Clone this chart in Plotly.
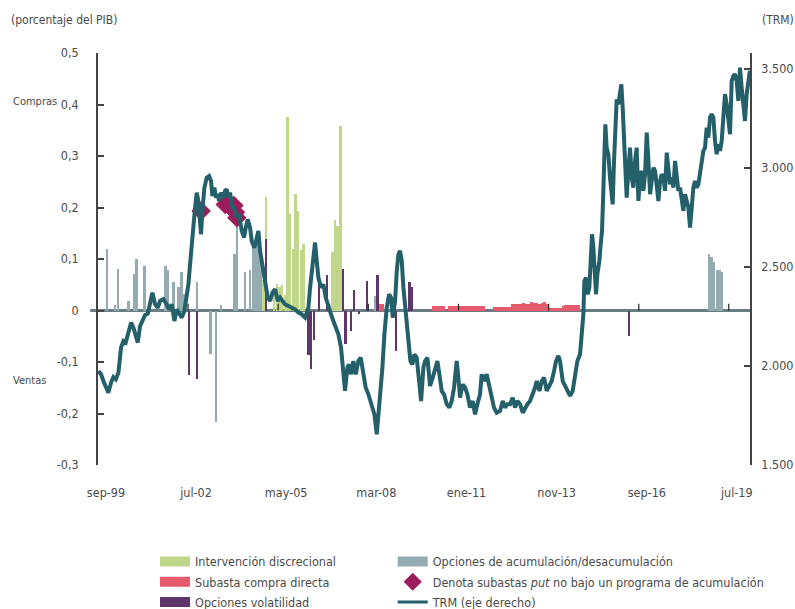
import datetime as dt
import plotly.graph_objects as go

# ---------------- data ----------------
# TRM (pesos por dólar); time as decimal years
trm_years = [
    1999.678, 1999.762, 1999.835, 1999.908, 1999.992, 2000.076, 2000.149, 2000.223, 2000.307,
    2000.390, 2000.464, 2000.537, 2000.621, 2000.705, 2000.778, 2000.851, 2000.914, 2000.988,
    2001.061, 2001.145, 2001.229, 2001.302, 2001.375, 2001.459, 2001.543, 2001.616, 2001.721,
    2001.826, 2001.899, 2001.983, 2002.067, 2002.140, 2002.214, 2002.297, 2002.381, 2002.455,
    2002.507, 2002.560, 2002.612, 2002.664, 2002.717, 2002.769, 2002.821, 2002.874, 2002.905,
    2002.947, 2003.010, 2003.084, 2003.157, 2003.220, 2003.262, 2003.325, 2003.377, 2003.429,
    2003.471, 2003.534, 2003.607, 2003.660, 2003.712, 2003.765, 2003.817, 2003.890, 2003.953,
    2004.027, 2004.100, 2004.184, 2004.257, 2004.310, 2004.372, 2004.446, 2004.498, 2004.582,
    2004.655, 2004.708, 2004.760, 2004.813, 2004.875, 2004.938, 2005.001, 2005.074, 2005.148,
    2005.232, 2005.315, 2005.389, 2005.462, 2005.546, 2005.651, 2005.756, 2005.860, 2005.965,
    2006.070, 2006.175, 2006.280, 2006.332, 2006.384, 2006.437, 2006.489, 2006.542, 2006.594,
    2006.678, 2006.751, 2006.825, 2006.908, 2006.992, 2007.065, 2007.139, 2007.223, 2007.306,
    2007.380, 2007.432, 2007.506, 2007.558, 2007.621, 2007.694, 2007.768, 2007.851, 2007.925,
    2008.009, 2008.082, 2008.166, 2008.271, 2008.355, 2008.428, 2008.501, 2008.564, 2008.606,
    2008.669, 2008.742, 2008.815, 2008.878, 2008.931, 2009.004, 2009.057, 2009.109, 2009.161,
    2009.214, 2009.266, 2009.340, 2009.424, 2009.486, 2009.549, 2009.612, 2009.685, 2009.759,
    2009.822, 2009.895, 2009.947,
    2010.021, 2010.104, 2010.188, 2010.262, 2010.335, 2010.398, 2010.471, 2010.544, 2010.628,
    2010.712, 2010.786, 2010.859, 2010.943, 2010.995, 2011.047, 2011.131, 2011.205, 2011.278,
    2011.362, 2011.446, 2011.519, 2011.592, 2011.676, 2011.729, 2011.802, 2011.886, 2011.970,
    2012.043, 2012.116, 2012.200, 2012.305, 2012.389, 2012.462, 2012.535, 2012.619, 2012.703,
    2012.777, 2012.850, 2012.934, 2013.018, 2013.091, 2013.164, 2013.248, 2013.332, 2013.405,
    2013.458, 2013.542, 2013.615, 2013.688, 2013.772, 2013.856, 2013.929, 2014.003, 2014.065,
    2014.139, 2014.191, 2014.275, 2014.348, 2014.422, 2014.506, 2014.589, 2014.663, 2014.736,
    2014.820, 2014.872, 2014.925, 2014.956, 2015.009, 2015.061, 2015.113, 2015.155, 2015.197,
    2015.239, 2015.281, 2015.323, 2015.365, 2015.428, 2015.470, 2015.512, 2015.553, 2015.585,
    2015.616, 2015.658, 2015.711, 2015.763, 2015.816, 2015.847, 2015.889, 2015.931, 2015.973,
    2016.025, 2016.077, 2016.119, 2016.161, 2016.203, 2016.245, 2016.287, 2016.339, 2016.392,
    2016.444, 2016.497, 2016.549, 2016.601, 2016.654, 2016.706, 2016.759, 2016.811, 2016.863,
    2016.916, 2016.968, 2017.021, 2017.073, 2017.125, 2017.178, 2017.230, 2017.283, 2017.335,
    2017.387, 2017.440, 2017.492, 2017.545, 2017.597, 2017.649, 2017.702, 2017.754, 2017.807,
    2017.859, 2017.911, 2017.964, 2018.016, 2018.068, 2018.121, 2018.173, 2018.226, 2018.278,
    2018.330, 2018.383, 2018.435, 2018.488, 2018.540, 2018.592, 2018.645, 2018.697, 2018.750,
    2018.802, 2018.854, 2018.907, 2018.959, 2019.012, 2019.064, 2019.116, 2019.169, 2019.221,
    2019.274, 2019.326, 2019.378, 2019.431, 2019.483, 2019.536, 2019.588, 2019.640, 2019.693,
    2019.745, 2019.798, 2019.850, 2019.902, 2019.955, 2020.007, 2020.059, 2020.112, 2020.160,
]
trm_values = [
    1975, 1958, 1924, 1891, 1865, 1916, 1944, 1933, 1966,
    2093, 2126, 2118, 2177, 2219, 2193, 2160, 2118, 2202,
    2231, 2257, 2264, 2328, 2370, 2311, 2294, 2328, 2337,
    2311, 2286, 2311, 2227, 2286, 2269, 2244, 2278, 2345,
    2412, 2513, 2631, 2698, 2799, 2875, 2833, 2724, 2665,
    2783, 2900, 2951, 2959, 2934, 2858, 2900, 2850, 2867,
    2833, 2875, 2850, 2884, 2892, 2850, 2875, 2799, 2799,
    2749, 2766, 2682, 2648, 2698, 2740, 2698, 2631, 2597,
    2648, 2682, 2581, 2530, 2480, 2412, 2345, 2328, 2370,
    2387, 2328, 2345, 2328, 2311, 2303, 2294, 2286, 2269,
    2261, 2244, 2294, 2395, 2463, 2564, 2623, 2530, 2446,
    2395, 2412, 2345, 2294, 2261, 2227, 2194, 2160, 2093,
    1958, 1874, 1992, 2008, 1958, 2025, 1958, 2025, 2042,
    1958, 1891, 1857, 1806, 1756, 1655, 1790, 1891, 1992,
    2160, 2294, 2362, 2345, 2244, 2328, 2480, 2564, 2581,
    2530, 2395, 2261, 2143, 2025, 2008, 2059, 2042, 1891,
    1823, 1992, 2025,
    2042, 1899, 1941, 1992, 2025, 1958, 1874, 1857, 1807,
    1790, 1823, 1891, 2025, 1941, 1840, 1907, 1891, 1857,
    1790, 1823, 1756, 1807, 1857, 1958, 1924, 1958, 1891,
    1857, 1790, 1764, 1773, 1823, 1790, 1807, 1807, 1840,
    1790, 1823, 1807, 1764, 1790, 1807, 1823, 1857, 1891,
    1924, 1874, 1924, 1941, 1874, 1907, 1924, 1975, 2025,
    2051, 2025, 1924, 1899, 1874, 1849, 1874, 1941, 2025,
    2059, 2160, 2261, 2429, 2446, 2362, 2396, 2530, 2665,
    2598, 2497, 2362, 2463, 2530, 2614, 2682, 2884, 3035,
    3220, 3102, 3069, 2951, 2884, 2816, 3035, 3203, 3346,
    3321, 3380, 3422, 3304, 3153, 2985, 2850, 2985, 3102,
    2951, 2900, 3035, 3102, 2833, 2951, 2985, 2884, 2968,
    3178, 3035, 2867, 2934, 3001, 2985, 2900, 2833, 2934,
    2968, 2951, 2884, 3077, 3001, 2917, 2951, 2900, 3035,
    2968, 2884, 2900, 2833, 2783, 2867, 2833, 2800, 2699,
    2800, 2900, 2934, 2900, 2917, 2968, 3018, 3086, 3102,
    3203, 3153, 3254, 3271, 3254, 3136, 3069, 3119, 3086,
    3136, 3254, 3372, 3321, 3237, 3170, 3439, 3464, 3473,
    3439, 3338, 3506, 3405, 3304, 3237, 3372, 3439, 3490,
]

# Intervención discrecional (% del PIB)
disc_months = ["2004-11", "2004-12", "2005-03", "2005-04", "2005-05", "2005-06", "2005-07",
               "2005-08", "2005-09", "2005-10", "2005-11", "2005-12", "2006-01", "2006-02",
               "2007-01", "2007-02", "2007-03", "2007-04"]
disc_values = [0.06, 0.22, 0.04, 0.052, 0.045, 0.049, 0.03,
               0.375, 0.188, 0.12, 0.227, 0.194, 0.117, 0.13,
               0.113, 0.175, 0.165, 0.359]

# Subasta compra directa
sub_months = ["2008-06", "2008-07", "2008-08",
              "2010-03", "2010-04", "2010-05", "2010-06", "2010-07",
              "2010-09", "2010-10", "2010-11", "2010-12", "2011-01", "2011-02", "2011-03",
              "2011-04", "2011-05", "2011-06", "2011-07", "2011-08", "2011-09", "2011-10",
              "2012-02", "2012-03", "2012-04", "2012-05", "2012-06", "2012-07", "2012-08",
              "2012-09", "2012-10", "2012-11", "2012-12", "2013-01", "2013-02", "2013-03",
              "2013-04", "2013-05", "2013-06", "2013-07", "2013-08", "2013-09", "2013-10",
              "2013-11", "2013-12", "2014-01", "2014-02", "2014-03",
              "2014-04", "2014-05", "2014-06", "2014-07", "2014-08", "2014-09", "2014-10"]
sub_values = [0.012, 0.012, 0.012,
              0.008, 0.008, 0.008, 0.008, 0.008,
              0.008, 0.008, 0.008, 0.008, 0.008, 0.008, 0.008,
              0.008, 0.008, 0.008, 0.008, 0.008, 0.008, 0.008,
              0.006, 0.006, 0.006, 0.006, 0.006, 0.006, 0.006,
              0.012, 0.013, 0.013, 0.012, 0.014, 0.013, 0.013,
              0.016, 0.015, 0.014, 0.013, 0.014, 0.016, 0.013,
              0.004, 0.004, 0.004, 0.004, 0.004,
              0.009, 0.010, 0.010, 0.010, 0.011, 0.011, 0.010]

# Opciones volatilidad
vol_months = ["2002-07", "2002-10", "2004-12", "2006-04", "2006-05", "2006-06", "2006-08",
              "2006-11", "2007-05", "2007-06", "2007-08", "2007-09", "2007-11", "2008-02",
              "2008-06", "2009-01", "2009-06", "2009-07", "2016-05"]
vol_values = [-0.125, -0.133, 0.139, -0.087, -0.113, -0.058, 0.071,
              0.068, 0.081, -0.065, -0.039, 0.039, -0.006, 0.058,
              0.068, -0.078, 0.055, 0.045, -0.049]

# Opciones de acumulación/desacumulación
acu_months = ["1999-12", "2000-03", "2000-04", "2000-08", "2000-10", "2000-11", "2001-02",
              "2001-10", "2001-11", "2002-01", "2002-03", "2002-04", "2002-05", "2002-10",
              "2003-03", "2003-05", "2003-07", "2003-12", "2004-01", "2004-04", "2004-06",
              "2004-07", "2004-08", "2004-09", "2004-10", "2008-05", "2008-06",
              "2018-11", "2018-12", "2019-01", "2019-02", "2019-03", "2019-04"]
acu_values = [0.12, 0.01, 0.081, 0.019, 0.071, 0.10, 0.087,
              0.087, 0.078, 0.055, 0.045, 0.074, 0.032, 0.055,
              -0.085, -0.217, 0.01, 0.11, 0.175, 0.074, 0.078,
              0.126, 0.13, 0.152, 0.097, 0.029, 0.055,
              0.11, 0.103, 0.094, 0.078, 0.078, 0.075]

# Subastas put no bajo un programa de acumulación
put_dates = ["2002-11-28", "2003-09-01", "2003-12-10", "2003-12-28", "2004-01-13"]
put_values = [0.193, 0.206, 0.204, 0.191, 0.18]

x_tick_dates = ["1999-09-01", "2002-07-01", "2005-05-01", "2008-03-01",
                "2011-01-01", "2013-11-01", "2016-09-01", "2019-07-01"]
x_tick_labels = ["sep-99", "jul-02", "may-05", "mar-08", "ene-11", "nov-13", "sep-16", "jul-19"]
left_ticks = [-0.3, -0.2, -0.1, 0, 0.1, 0.2, 0.3, 0.4, 0.5]
left_labels = ["-0,3", "-0,2", "-0,1", "0", "0,1", "0,2", "0,3", "0,4", "0,5"]
right_ticks = [1500, 2000, 2500, 3000, 3500]
right_labels = ["1.500", "2.000", "2.500", "3.000", "3.500"]


def year_to_date(y):
    yr = int(y)
    start = dt.datetime(yr, 1, 1)
    end = dt.datetime(yr + 1, 1, 1)
    return start + (end - start) * (y - yr)


trm_dates = [year_to_date(y) for y in trm_years]

# ---------------- style ----------------
FONT = "DejaVu Sans Condensed, Liberation Sans Narrow, Roboto Condensed, sans-serif"
C_DISC = "#bfd68b"
C_SUB = "#e55a6c"
C_VOL = "#5f3669"
C_ACU = "#93abb1"
C_PUT = "#9c1c5c"
C_TRM = "#246069"
TXT = "#4a4a4a"
AX = "#444444"
ZL = "#6b7c82"
FS = 12.5


def mid(m):
    return m + "-15"


DAY = 24 * 3600 * 1000
BAR_W = 27 * DAY

fig = go.Figure()
fig.add_trace(go.Bar(x=[mid(m) for m in disc_months], y=disc_values, width=BAR_W,
                     marker=dict(color=C_DISC, line_width=0), showlegend=False, hoverinfo="skip"))
fig.add_trace(go.Bar(x=[mid(m) for m in acu_months], y=acu_values, width=BAR_W,
                     marker=dict(color=C_ACU, line_width=0), showlegend=False, hoverinfo="skip"))
fig.add_trace(go.Bar(x=[mid(m) for m in sub_months], y=sub_values, width=31 * DAY,
                     marker=dict(color=C_SUB, line_width=0), showlegend=False, hoverinfo="skip"))
fig.add_trace(go.Bar(x=[mid(m) for m in vol_months], y=vol_values, width=BAR_W,
                     marker=dict(color=C_VOL, line_width=0), showlegend=False, hoverinfo="skip"))
fig.add_trace(go.Scatter(x=trm_dates, y=trm_values, yaxis="y2", mode="lines",
                         line=dict(color=C_TRM, width=4), showlegend=False, hoverinfo="skip"))
fig.add_trace(go.Scatter(x=put_dates, y=put_values, mode="markers",
                         marker=dict(symbol="diamond", size=15, color=C_PUT),
                         showlegend=False, hoverinfo="skip"))

# legend entries (two columns = two legends)
leg = [
    ("legend", "Intervención discrecional", dict(mode="lines", line=dict(color=C_DISC, width=12))),
    ("legend", "Subasta compra directa", dict(mode="lines", line=dict(color=C_SUB, width=12))),
    ("legend", "Opciones volatilidad", dict(mode="lines", line=dict(color=C_VOL, width=12))),
    ("legend2", "Opciones de acumulación/desacumulación",
     dict(mode="lines", line=dict(color=C_ACU, width=12))),
    ("legend2", "Denota subastas <i>put</i> no bajo un programa de acumulación",
     dict(mode="markers", marker=dict(symbol="diamond", size=14, color=C_PUT))),
    ("legend2", "TRM (eje derecho)", dict(mode="lines", line=dict(color=C_TRM, width=3))),
]
for i, (lg, name, kw) in enumerate(leg):
    fig.add_trace(go.Scatter(x=[None], y=[None], name=name, showlegend=True, legend=lg,
                             legendgroup=f"g{i}", **kw))

legend_common = dict(orientation="v", xref="container", yref="container",
                     xanchor="left", yanchor="top", itemwidth=30, tracegroupgap=1,
                     font=dict(family=FONT, size=FS, color=TXT), bgcolor="rgba(0,0,0,0)")

# zero line (slightly protruding left of the axis) and x tick marks sitting on it
shapes = [dict(type="line", xref="paper", yref="y", x0=-0.012, x1=1, y0=0, y1=0,
               line=dict(color=ZL, width=3), layer="below")]
for d in x_tick_dates[1:]:
    shapes.append(dict(type="line", xref="x", yref="y", x0=d, x1=d, y0=0, y1=0.013,
                       line=dict(color="#222222", width=1.2), layer="above"))

xr = ["1999-09-01", "2020-03-01"]
fig.update_layout(
    width=795, height=609,
    margin=dict(l=98, r=45, t=53, b=144, autoexpand=False),
    paper_bgcolor="white", plot_bgcolor="white",
    barmode="overlay", bargap=0,
    font=dict(family=FONT, size=FS, color=TXT),
    xaxis=dict(type="date", range=xr, tickvals=x_tick_dates, ticktext=x_tick_labels,
               showgrid=False, showline=False, ticks="", zeroline=False, automargin=False,
               ticklabelstandoff=18, ticklabelshift=8,
               tickfont=dict(family=FONT, size=FS, color=TXT)),
    yaxis=dict(range=[-0.3, 0.5], tickvals=left_ticks, ticktext=left_labels,
               showgrid=False, showline=True, linecolor=AX, linewidth=1.5,
               ticks="inside", ticklen=6, tickcolor=AX, tickwidth=1.5,
               zeroline=False, automargin=False,
               ticklabelstandoff=15, tickfont=dict(family=FONT, size=FS, color=TXT)),
    yaxis2=dict(range=[1500, 3580], overlaying="y", side="right",
                tickvals=right_ticks, ticktext=right_labels,
                showgrid=False, showline=True, linecolor=AX, linewidth=1.5,
                ticks="inside", ticklen=6, tickcolor=AX, tickwidth=1.5, automargin=False,
                zeroline=False, ticklabelstandoff=7,
                tickfont=dict(family=FONT, size=FS, color=TXT)),
    legend=dict(x=0.195, y=0.102, **legend_common),
    legend2=dict(x=0.494, y=0.102, **legend_common),
    shapes=shapes,
    annotations=[
        dict(text="(porcentaje del PIB)", xref="paper", yref="paper", x=-0.137, y=1.08,
             xanchor="left", yanchor="middle", showarrow=False,
             font=dict(family=FONT, size=12, color=TXT)),
        dict(text="(TRM)", xref="paper", yref="paper", x=1.016, y=1.08,
             xanchor="left", yanchor="middle", showarrow=False,
             font=dict(family=FONT, size=12, color=TXT)),
        dict(text="Compras", xref="paper", yref="paper", x=-0.133, y=0.883,
             xanchor="left", yanchor="middle", showarrow=False,
             font=dict(family=FONT, size=11, color=TXT)),
        dict(text="Ventas", xref="paper", yref="paper", x=-0.133, y=0.206,
             xanchor="left", yanchor="middle", showarrow=False,
             font=dict(family=FONT, size=11, color=TXT)),
    ],
)

fig.write_html("out.html", config={"displayModeBar": False},
               post_script="document.body.style.margin='0px';document.body.style.padding='0px';")
